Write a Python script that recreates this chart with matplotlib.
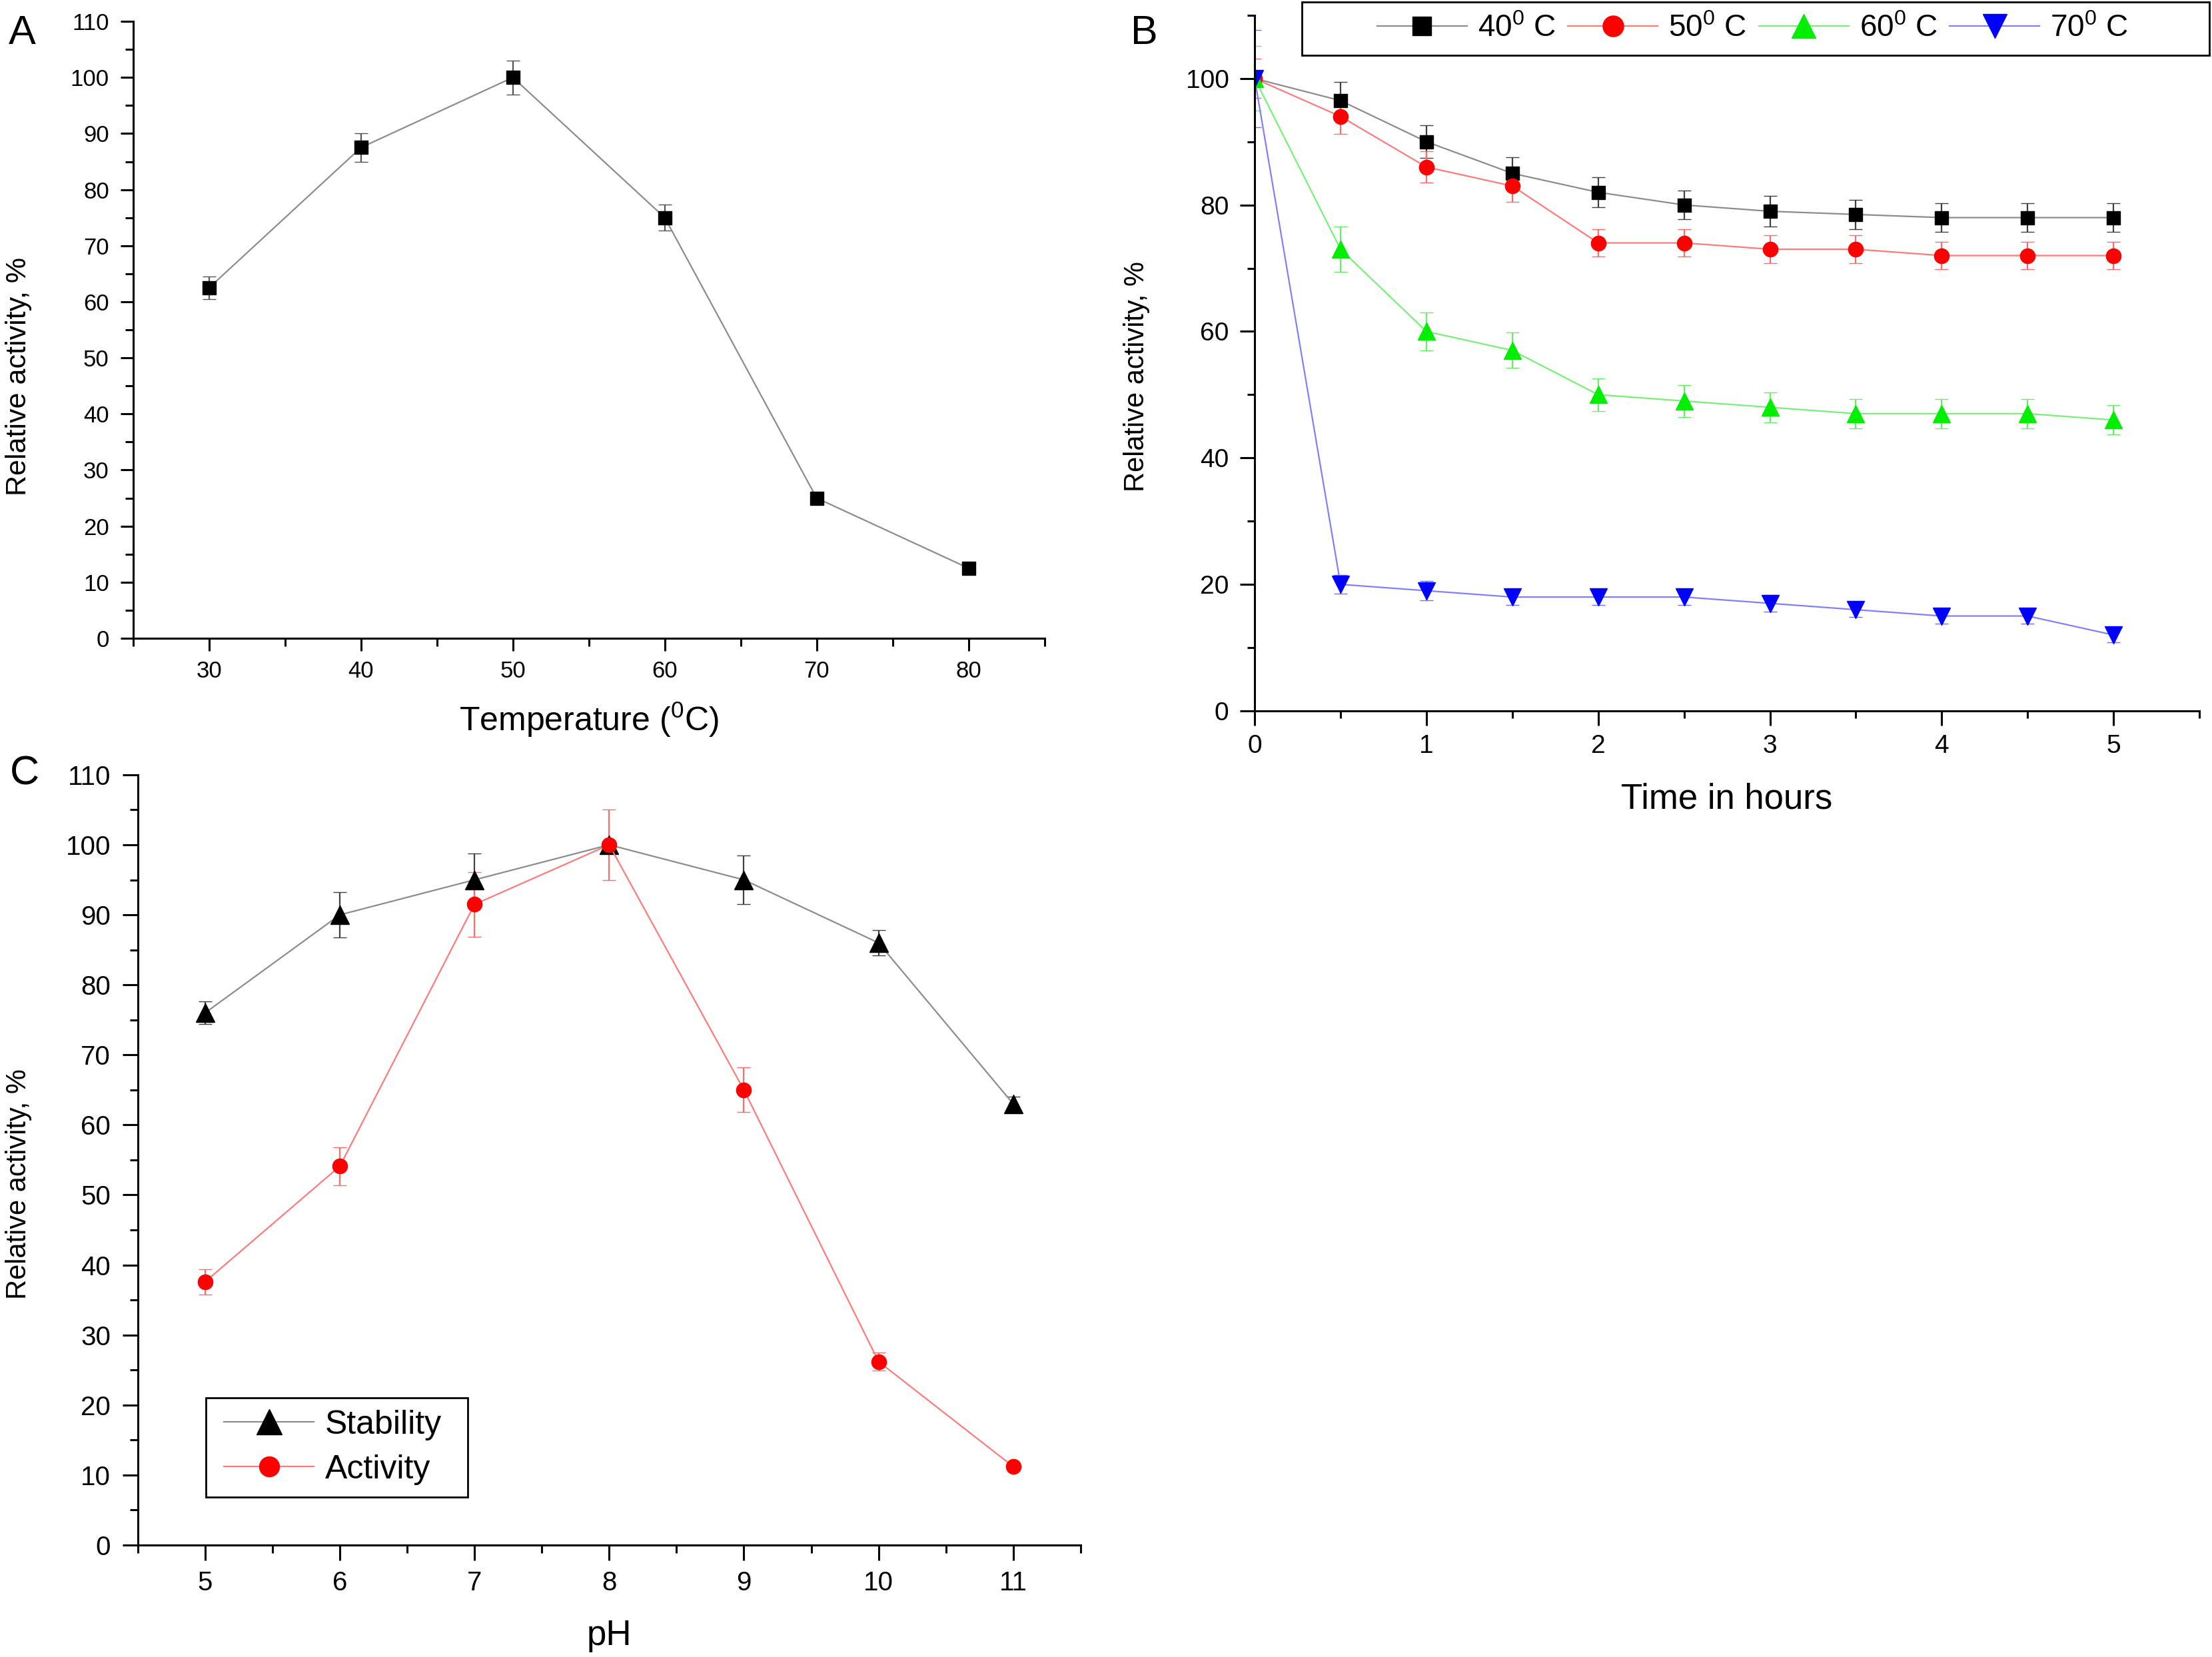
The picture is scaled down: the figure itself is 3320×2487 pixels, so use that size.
import matplotlib
matplotlib.use("Agg")
import matplotlib.pyplot as plt
from matplotlib.patches import Rectangle
from matplotlib.ticker import MultipleLocator

plt.rcParams['font.family'] = ['Liberation Sans', 'DejaVu Sans']
plt.rcParams['mathtext.fontset'] = 'custom'
plt.rcParams['mathtext.rm'] = 'Liberation Sans'
plt.rcParams['axes.linewidth'] = 1.1

# --- data: panel A, temperature optimum ---
temp_c = [30, 40, 50, 60, 70, 80]
temp_act = [62.5, 87.5, 100, 75, 25, 12.5]
temp_err = [2.0, 2.6, 3.0, 2.3, 0.6, 0.5]

# --- data: panel B, thermal stability over time ---
hours = [0, 0.5, 1, 1.5, 2, 2.5, 3, 3.5, 4, 4.5, 5]
stab_40 = [100, 96.5, 90, 85, 82, 80, 79, 78.5, 78, 78, 78]
stab_50 = [100, 94, 86, 83, 74, 74, 73, 73, 72, 72, 72]
stab_60 = [100, 73, 60, 57, 50, 49, 48, 47, 47, 47, 46]
stab_70 = [100, 20, 19, 18, 18, 18, 17, 16, 15, 15, 12]
err_40 = [0.5, 2.9, 2.6, 2.5, 2.4, 2.3, 2.4, 2.3, 2.3, 2.3, 2.3]
err_50 = [3.1, 2.8, 2.5, 2.5, 2.2, 2.2, 2.2, 2.2, 2.2, 2.2, 2.2]
err_60 = [5.1, 3.6, 3.0, 2.8, 2.6, 2.5, 2.4, 2.3, 2.3, 2.3, 2.3]
err_70 = [7.7, 1.5, 1.5, 1.3, 1.3, 1.3, 1.3, 1.2, 1.2, 1.2, 1.2]
temp_labels = ['40$^\\mathrm{0}$ C', '50$^\\mathrm{0}$ C',
               '60$^\\mathrm{0}$ C', '70$^\\mathrm{0}$ C']

# --- data: panel C, pH profile ---
ph = [5, 6, 7, 8, 9, 10, 11]
ph_stability = [76, 90, 95, 100, 95, 86, 63]
ph_stability_err = [1.6, 3.2, 3.8, 0.5, 3.5, 1.8, 1.0]
ph_activity = [37.6, 54.1, 91.5, 100, 65, 26.2, 11.2]
ph_activity_err = [1.8, 2.7, 4.6, 5.0, 3.2, 1.3, 0.5]


def style_axes(ax, labelsize, major_len, minor_len, xpad, ypad):
    ax.spines['top'].set_visible(False)
    ax.spines['right'].set_visible(False)
    ax.tick_params(which='both', direction='out', width=1.1, labelsize=labelsize)
    ax.tick_params(which='major', length=major_len)
    ax.tick_params(which='minor', length=minor_len)
    ax.tick_params(axis='x', which='major', pad=xpad)
    ax.tick_params(axis='y', which='major', pad=ypad)


fig = plt.figure(figsize=(16.6, 12.435), dpi=200)

# ---------------- Panel A ----------------
axA = fig.add_axes([0.0602, 0.6148, 0.4120, 0.3723])
axA.errorbar(temp_c, temp_act, yerr=temp_err, color='#8c8c8c', lw=0.8,
             marker='s', ms=7, mfc='black', mec='black', mew=0.5,
             ecolor='#555555', elinewidth=0.8, capsize=3.6, capthick=0.8)
axA.set_xlim(25, 85)
axA.set_ylim(0, 110)
axA.xaxis.set_major_locator(MultipleLocator(10))
axA.xaxis.set_minor_locator(MultipleLocator(5))
axA.yaxis.set_major_locator(MultipleLocator(10))
axA.yaxis.set_minor_locator(MultipleLocator(5))
style_axes(axA, 12.5, 7, 4.3, 5, 6)
axA.set_xlabel('Temperature ($^\\mathrm{0}$C)', fontsize=18, va='center')
axA.xaxis.set_label_coords(0.5, -0.1317)
axA.set_ylabel('Relative activity, %', fontsize=15.5, va='center')
axA.yaxis.set_label_coords(-0.1257, 0.4244)

# ---------------- Panel B ----------------
axB = fig.add_axes([0.5672, 0.5710, 0.4271, 0.4198])
series_b = [
    (stab_40, err_40, 's', 7.2, 'black', '#8c8c8c', '#404040'),
    (stab_50, err_50, 'o', 8.0, '#ff0000', '#ff7a7a', '#ff6a6a'),
    (stab_60, err_60, '^', 9.5, '#00ee00', '#77f077', '#66ee66'),
    (stab_70, err_70, 'v', 9.5, '#0000ff', '#8080ff', '#7070ff'),
]
handles_b = []
for vals, errs, mk, ms, mcol, lcol, ecol in series_b:
    cont = axB.errorbar(hours, vals, yerr=errs, color=lcol, lw=0.8,
                        marker=mk, ms=ms, mfc=mcol, mec=mcol, mew=0.5,
                        ecolor=ecol, elinewidth=0.8, capsize=3.6, capthick=0.8)
    handles_b.append(cont[0])
axB.set_xlim(0, 5.5)
axB.set_ylim(0, 110)
axB.xaxis.set_major_locator(MultipleLocator(1))
axB.xaxis.set_minor_locator(MultipleLocator(0.5))
axB.yaxis.set_major_locator(MultipleLocator(20))
axB.yaxis.set_minor_locator(MultipleLocator(10))
style_axes(axB, 14, 7.9, 4, 4.7, 6)
axB.set_xlabel('Time in hours', fontsize=19, va='center')
axB.xaxis.set_label_coords(0.5, -0.1274)
axB.set_ylabel('Relative activity, %', fontsize=15, va='center')
axB.yaxis.set_label_coords(-0.1248, 0.481)

legB = axB.legend(handles_b, temp_labels, loc='center', bbox_to_anchor=(0.527, 0.981),
                  ncol=4, frameon=False, fontsize=16.5, handlelength=2.95,
                  handletextpad=0.35, columnspacing=0.4, markerscale=1.4,
                  borderaxespad=0, borderpad=0)
axB.add_patch(Rectangle((0.050, 0.9425), 0.9606, 0.0765, transform=axB.transAxes,
                        fill=False, edgecolor='black', lw=1.0, clip_on=False, zorder=5))

# ---------------- Panel C ----------------
axC = fig.add_axes([0.0623, 0.0676, 0.4262, 0.4648])
cs = axC.errorbar(ph, ph_stability, yerr=ph_stability_err, color='#8c8c8c', lw=0.8,
                  marker='^', ms=10, mfc='black', mec='black', mew=0.5,
                  ecolor='#404040', elinewidth=0.8, capsize=3.6, capthick=0.8)
ca = axC.errorbar(ph, ph_activity, yerr=ph_activity_err, color='#ff7a7a', lw=0.8,
                  marker='o', ms=8, mfc='#ff0000', mec='#ff0000', mew=0.5,
                  ecolor='#ff6a6a', elinewidth=0.8, capsize=3.6, capthick=0.8)
axC.set_xlim(4.5, 11.5)
axC.set_ylim(0, 110)
axC.xaxis.set_major_locator(MultipleLocator(1))
axC.xaxis.set_minor_locator(MultipleLocator(0.5))
axC.yaxis.set_major_locator(MultipleLocator(10))
axC.yaxis.set_minor_locator(MultipleLocator(5))
style_axes(axC, 14.5, 8.2, 4.2, 5.4, 6.5)
axC.set_xlabel('pH', fontsize=19, va='center')
axC.xaxis.set_label_coords(0.5, -0.1176)
axC.set_ylabel('Relative activity, %', fontsize=15, va='center')
axC.yaxis.set_label_coords(-0.1265, 0.469)

axC.legend([cs[0], ca[0]], ['Stability', 'Activity'], loc='center',
           bbox_to_anchor=(0.207, 0.1267), frameon=False, fontsize=18,
           handlelength=2.7, handletextpad=0.34, labelspacing=0.42,
           markerscale=1.35, borderaxespad=0, borderpad=0)
axC.add_patch(Rectangle((0.072, 0.0623), 0.278, 0.1287, transform=axC.transAxes,
                        fill=False, edgecolor='black', lw=1.0, clip_on=False, zorder=5))

# panel letters
fig.text(33 / 3320, 1 - 50 / 2487, 'A', fontsize=22, ha='center', va='center')
fig.text(1717 / 3320, 1 - 50 / 2487, 'B', fontsize=22, ha='center', va='center')
fig.text(37 / 3320, 1 - 1162 / 2487, 'C', fontsize=22, ha='center', va='center')

fig.savefig('out.png', dpi=200)
plt.close(fig)
